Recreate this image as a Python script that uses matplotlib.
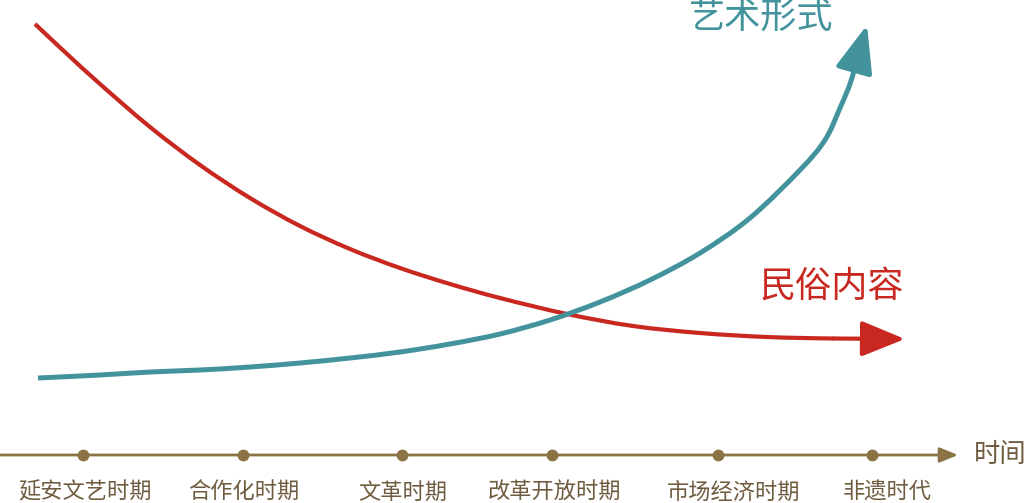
import numpy as np
import matplotlib
matplotlib.use('Agg')
import matplotlib.pyplot as plt
from matplotlib.path import Path
from matplotlib.patches import PathPatch

plt.rcParams['font.family'] = ['Noto Sans CJK SC', 'DejaVu Sans']

# 时期
periods = ['延安文艺时期', '合作化时期', '文革时期', '改革开放时期', '市场经济时期', '非遗时代']
period_x = [83, 243, 402, 552, 718, 872]

# 民俗内容 (下降)
folk_x = [35, 67, 100, 150, 200, 250, 300, 350, 400, 450, 500, 567, 633, 700, 767, 833]
folk_y = [479, 449, 419, 376, 338, 305, 277, 254, 235, 219, 205, 189, 177, 170, 166, 164.5]
folk_tip = (905, 164)

# 艺术形式 (上升)
art_x = [38, 100, 150, 200, 250, 300, 350, 400, 450, 500, 550, 600, 650, 700, 750, 800, 825, 840, 852]
art_y = [125, 128, 131, 133, 136, 140, 145, 151, 159, 169, 183, 201, 223, 250, 285, 333, 363, 395, 425]
art_tip = (867, 478)

axis_y = 48
axis_end = 958

RED = '#C8281F'
TEAL = '#43939D'
BROWN = '#8B7345'
TXT = '#6F5C40'


def smooth_path(xs, ys, tip):
    # 经过各点的平滑曲线 (Catmull-Rom -> 三次贝塞尔), 末端朝向箭头
    p = np.column_stack([xs, ys]).astype(float)
    p = np.vstack([p[0], p, np.array(tip, dtype=float)])
    verts = [p[1]]
    codes = [Path.MOVETO]
    for i in range(1, len(p) - 2):
        c1 = p[i] + (p[i + 1] - p[i - 1]) / 6
        c2 = p[i + 1] - (p[i + 2] - p[i]) / 6
        verts += [c1, c2, p[i + 1]]
        codes += [Path.CURVE4] * 3
    return Path(verts, codes)


fig = plt.figure(figsize=(10.28, 5.03), dpi=100)
ax = fig.add_axes([0, 0, 1, 1])
ax.set_xlim(0, 1028)
ax.set_ylim(0, 503)
ax.axis('off')

# 曲线
ax.add_patch(PathPatch(smooth_path(folk_x, folk_y, folk_tip), fc='none', ec=RED, lw=3.0, capstyle='butt'))
ax.annotate('', xy=folk_tip, xytext=(folk_x[-1], folk_y[-1]),
            arrowprops=dict(arrowstyle='-|>,head_length=2.7,head_width=1.1',
                            color=RED, lw=3.0, shrinkA=0, shrinkB=0))

ax.add_patch(PathPatch(smooth_path(art_x, art_y, art_tip), fc='none', ec=TEAL, lw=3.6, capstyle='butt'))
ax.annotate('', xy=art_tip, xytext=(art_x[-1], art_y[-1]),
            arrowprops=dict(arrowstyle='-|>,head_length=2.9,head_width=1.15',
                            color=TEAL, lw=3.6, shrinkA=0, shrinkB=0))

ax.text(761, 485, '艺术形式', color=TEAL, fontsize=26, ha='center', va='center')
ax.text(832, 215, '民俗内容', color=RED, fontsize=26, ha='center', va='center')

# 时间轴
ax.annotate('', xy=(axis_end, axis_y), xytext=(0, axis_y),
            arrowprops=dict(arrowstyle='-|>,head_length=1.1,head_width=0.45',
                            color=BROWN, lw=2.0, shrinkA=0, shrinkB=0))
ax.plot(period_x, [axis_y] * len(period_x), 'o', ms=7.5, color=BROWN)
ax.text(1000, axis_y, '时间', color=TXT, fontsize=19, ha='center', va='center')

label_shift = [2, 1, 1, 2, 16, 15]
for px, name, dx in zip(period_x, periods, label_shift):
    ax.text(px + dx, 11, name, color=TXT, fontsize=16, ha='center', va='center')

fig.savefig('out.png', dpi=100, facecolor='white')
